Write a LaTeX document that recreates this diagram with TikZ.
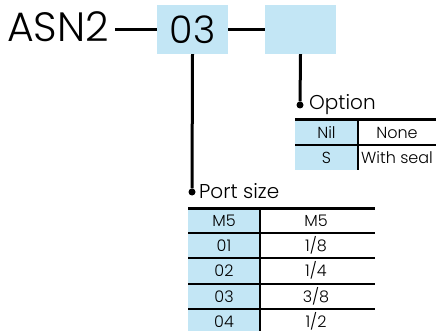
\documentclass[tikz,border=0pt]{standalone}
\usepackage{fontspec}
\setmainfont{Poppins}[UprightFont=* Light]
\definecolor{codeblue}{RGB}{195,230,245}
\tikzstyle{code} = [anchor=base west,inner sep=0pt,font=\fontsize{41}{41}\selectfont]
\tikzstyle{codebox} = [rectangle,fill=codeblue,minimum width=71pt,minimum height=49pt,inner sep=0pt,font=\fontsize{38}{38}\selectfont]
\tikzstyle{link} = [draw,line width=3pt,-]
\tikzstyle{dot} = [circle,fill=black,minimum size=7pt,inner sep=0pt]
\tikzstyle{heading} = [anchor=base west,inner sep=0pt,font=\fontsize{20}{20}\selectfont]
\tikzstyle{cell} = [anchor=base,inner sep=0pt,font=\fontsize{16}{16}\selectfont]
\tikzstyle{toprule} = [draw,line width=3pt]
\tikzstyle{rowrule} = [draw,line width=2pt]
\tikzstyle{colrule} = [draw,line width=1.5pt]

\begin{document}
\begin{tikzpicture}[x=1pt,y=-1pt]
  \useasboundingbox (0,0) rectangle (436,331);
  %% model code
  \node[code] (asn) at (7,42) {ASN2};
  \node[codebox] (b1) at (192.5,29.5) {03};
  \node[codebox] (b2) at (300.5,29.5) {};
  \coordinate (d1) at (115,29.5);
  \path[link] (d1) -- (b1.west);
  \path[link] (b1.east) -- (b2.west);

  %% option
  \node[dot] (optdot) at (300,105) {};
  \node[heading] (opt) at (309,110) {Option};
  \path[link] (b2.south) -- (optdot);
  \fill[codeblue] (295,120) rectangle (358,170);
  \foreach \name/\desc/\n in {nil/None/0, s/With seal/1}
  {
    \node[cell] (opt\name) at (326.5,139+25*\n) {\ifnum\n=0 Nil\else S\fi};
    \node[cell] (optd\name) at (397,139+25*\n) {\desc};
  }
  \path[toprule] (295,120) -- (436,120);
  \path[rowrule] (295,145) -- (436,145);
  \path[colrule] (358,120) -- (358,170);

  %% port size
  \node[dot] (portdot) at (192,192) {};
  \node[heading] (port) at (199,198) {Port size};
  \path[link] (b1.south) -- (portdot);
  \fill[codeblue] (188,208) rectangle (260,331);
  \foreach \code/\size/\n in {M5/M5/0, 01/1\slash 8/1, 02/1\slash 4/2, 03/3\slash 8/3, 04/1\slash 2/4}
  {
    \node[cell] (port\n) at (224,226.5+25.2*\n) {\code};
    \node[cell] (size\n) at (316,226.5+25.2*\n) {\size};
  }
  \path[toprule] (188,208) -- (375,208);
  \foreach \n in {1,...,4}
    \path[rowrule] (188,208+25.2*\n) -- (375,208+25.2*\n);
  \path[colrule] (260,208) -- (260,331);
\end{tikzpicture}
\end{document}
